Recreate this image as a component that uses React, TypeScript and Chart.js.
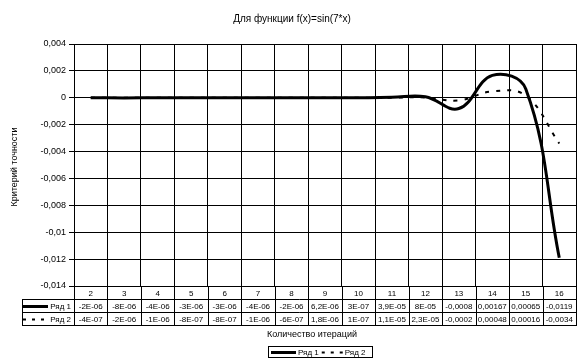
import React, { useEffect, useRef } from "react";
import { Chart, registerables } from "chart.js";

Chart.register(...registerables);

const categories = ["2", "3", "4", "5", "6", "7", "8", "9", "10", "11", "12", "13", "14", "15", "16"];
const series1 = [-2e-6, -8e-6, -4e-6, -3e-6, -3e-6, -4e-6, -2e-6, 6.2e-6, 3e-7, 3.9e-5, 8e-5, -0.0008, 0.00167, 0.00065, -0.0119];
const series2 = [-4e-7, -2e-6, -1e-6, -8e-7, -8e-7, -1e-6, -6e-7, 1.8e-6, 1e-7, 1.1e-5, 2.3e-5, -0.0002, 0.00048, 0.00016, -0.0034];
const seriesNames = ["Ряд 1", "Ряд 2"];
const yMin = -0.014;
const yMax = 0.004;
const yStep = 0.002;
const titleText = "Для функции f(x)=sin(7*x)";
const xTitleText = "Количество итераций";
const yTitleText = "Критерий точности";

const FONT = "'Liberation Sans', Arial, sans-serif";

function fmtCell(v: number): string {
  if (v === 0) return "0";
  if (Math.abs(v) < 1e-4) {
    const [m, e] = v.toExponential().split("e");
    const en = parseInt(e, 10);
    const es = (en < 0 ? "-" : "+") + String(Math.abs(en)).padStart(2, "0");
    return m.replace(".", ",") + "E" + es;
  }
  return String(v).replace(".", ",");
}

function fmtTick(v: number): string {
  const r = parseFloat(v.toFixed(4));
  return String(r).replace(".", ",");
}

const decorPlugin = {
  id: "decor",
  beforeDraw(chart: any) {
    const ctx = chart.ctx;
    ctx.save();
    ctx.fillStyle = "#fff";
    ctx.fillRect(0, 0, chart.width, chart.height);
    ctx.restore();
  },
  afterDraw(chart: any) {
    const ctx = chart.ctx;
    const area = chart.chartArea;
    const xs = chart.scales.x;
    const n = categories.length;
    const colW = (area.right - area.left) / n;
    const rowH = 13;
    const top = Math.round(area.bottom);
    const rows = [top, top + rowH, top + 2 * rowH, top + 3 * rowH];
    const keyLeft = 22;
    ctx.save();
    ctx.strokeStyle = "#000";
    ctx.fillStyle = "#000";
    ctx.lineWidth = 1;
    ctx.beginPath();
    for (let i = 1; i < rows.length; i++) {
      const y = rows[i] + 0.5;
      ctx.moveTo(keyLeft, y);
      ctx.lineTo(area.right + 0.5, y);
    }
    ctx.moveTo(keyLeft + 0.5, rows[1]);
    ctx.lineTo(keyLeft + 0.5, rows[3] + 1);
    for (let i = 0; i <= n; i++) {
      const x = Math.round(area.left + i * colW) + 0.5;
      ctx.moveTo(x, rows[0]);
      ctx.lineTo(x, rows[3] + 1);
    }
    ctx.stroke();

    ctx.font = `8px ${FONT}`;
    ctx.textAlign = "center";
    ctx.textBaseline = "middle";
    const allSeries = [series1, series2];
    for (let i = 0; i < n; i++) {
      const cx = xs.getPixelForValue(i);
      ctx.fillText(categories[i], cx, rows[0] + rowH / 2 + 1);
      for (let s = 0; s < allSeries.length; s++) {
        ctx.fillText(fmtCell(allSeries[s][i]), cx, rows[s + 1] + rowH / 2 + 1);
      }
    }
    ctx.textAlign = "right";
    for (let s = 0; s < 2; s++) {
      const cy = rows[s + 1] + rowH / 2 + 1;
      ctx.fillText(seriesNames[s], area.left - 3, cy);
      ctx.beginPath();
      ctx.lineWidth = s === 0 ? 3 : 2;
      ctx.setLineDash(s === 0 ? [] : [3, 6]);
      ctx.moveTo(keyLeft + 1, cy);
      ctx.lineTo(keyLeft + 26, cy);
      ctx.stroke();
    }
    ctx.setLineDash([]);

    ctx.textAlign = "center";
    ctx.font = `10px ${FONT}`;
    ctx.fillText(titleText, 292, 19);
    ctx.font = `9px ${FONT}`;
    ctx.fillText(xTitleText, 312, 335);
    ctx.save();
    ctx.translate(15, 167);
    ctx.rotate(-Math.PI / 2);
    ctx.fillText(yTitleText, 0, 0);
    ctx.restore();

    // legend
    ctx.font = `8px ${FONT}`;
    const lx = 268, ly = 346, lw = 104, lh = 11;
    ctx.lineWidth = 1;
    ctx.strokeRect(lx + 0.5, ly + 0.5, lw, lh);
    const my = ly + lh / 2 + 1;
    ctx.beginPath();
    ctx.lineWidth = 3;
    ctx.moveTo(lx + 3, my);
    ctx.lineTo(lx + 28, my);
    ctx.stroke();
    ctx.textAlign = "left";
    ctx.fillText(seriesNames[0], lx + 30, my);
    const w1 = ctx.measureText(seriesNames[0]).width;
    const dStart = lx + 30 + w1 + 3;
    ctx.beginPath();
    ctx.lineWidth = 2;
    ctx.setLineDash([3, 6]);
    ctx.moveTo(dStart, my);
    ctx.lineTo(dStart + 21, my);
    ctx.stroke();
    ctx.setLineDash([]);
    ctx.fillText(seriesNames[1], dStart + 23, my);
    ctx.restore();
  },
};

export default function App() {
  const ref = useRef<HTMLCanvasElement | null>(null);
  useEffect(() => {
    document.body.style.margin = "0";
    const canvas = ref.current!;
    const chart = new Chart(canvas, {
      type: "line",
      data: {
        labels: categories,
        datasets: [
          {
            label: seriesNames[0],
            data: series1,
            borderColor: "#000",
            borderWidth: 3,
            pointRadius: 0,
            tension: 0.4,
            fill: false,
          },
          {
            label: seriesNames[1],
            data: series2,
            borderColor: "#000",
            borderWidth: 2,
            borderDash: [4, 7],
            pointRadius: 0,
            tension: 0.4,
            fill: false,
          },
        ],
      },
      options: {
        responsive: false,
        animation: false,
        layout: { padding: { top: 44, right: 4, bottom: 77, left: 0 } },
        plugins: { legend: { display: false }, title: { display: false }, tooltip: { enabled: false } },
        scales: {
          x: {
            type: "category",
            offset: true,
            grid: { offset: true, color: "#000", drawTicks: false },
            border: { color: "#000" },
            ticks: { display: false },
            afterFit: (s: any) => {
              s.height = 0;
            },
          },
          y: {
            min: yMin,
            max: yMax,
            ticks: {
              stepSize: yStep,
              color: "#000",
              font: { family: FONT, size: 9 },
              padding: 3,
              callback: (v: any) => fmtTick(Number(v)),
            },
            grid: { color: "#000", tickLength: 5 },
            border: { color: "#000" },
            afterFit: (s: any) => {
              s.width = 74;
            },
          },
        },
      },
      plugins: [decorPlugin],
    });
    return () => chart.destroy();
  }, []);
  return <canvas ref={ref} width={580} height={363} style={{ display: "block" }} />;
}
